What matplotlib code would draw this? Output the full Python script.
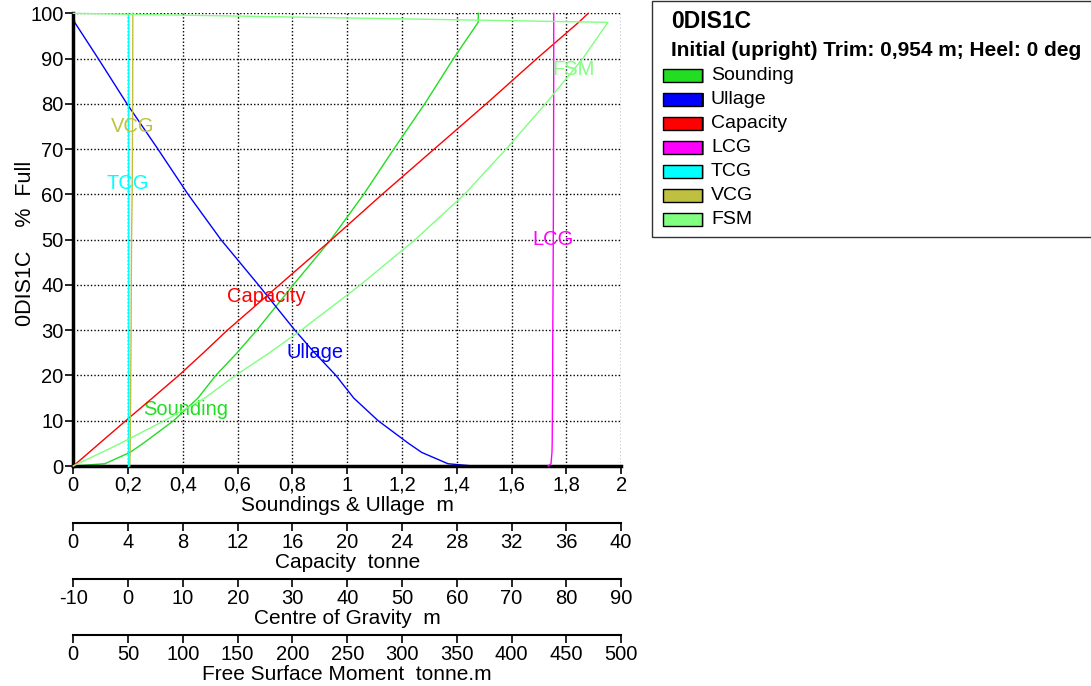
import numpy as np
import matplotlib.pyplot as plt
from matplotlib.patches import Rectangle
from matplotlib.ticker import FuncFormatter

plt.rcParams['font.family'] = ['Liberation Sans', 'DejaVu Sans']
plt.rcParams['axes.unicode_minus'] = False

tank = '0DIS1C'
condition = 'Initial (upright) Trim: 0,954 m; Heel: 0 deg'

# % full, and the tank curves read at each fill
pct_full = [0, 0.5, 3, 5, 10, 15, 20, 25, 30, 40, 50, 60, 70, 80, 90, 98, 100]
sounding = [0.0, 0.115, 0.207, 0.255, 0.366, 0.455, 0.52, 0.598, 0.67, 0.803,
            0.94, 1.06, 1.17, 1.283, 1.388, 1.478, 1.479]                 # m
ullage = [1.46, 1.368, 1.272, 1.224, 1.113, 1.024, 0.959, 0.881, 0.809, 0.676,
          0.539, 0.419, 0.309, 0.196, 0.091, 0.005, 0.0]                   # m
capacity = [0.0, 0.19, 1.15, 1.91, 3.83, 5.77, 7.7, 9.5, 11.25, 15.05,
            18.85, 22.55, 26.35, 30.15, 33.85, 36.9, 37.6]                 # tonne
lcg = [76.7, 77.2, 77.38, 77.42, 77.45, 77.48, 77.5, 77.51, 77.53, 77.58,
       77.62, 77.65, 77.67, 77.69, 77.7, 77.7, 77.7]                       # m
tcg = [0.0, 0.0, 0.0, 0.0, 0.0, 0.0, 0.0, 0.0, 0.0, 0.0,
       0.0, 0.0, 0.0, 0.0, 0.0, 0.0, 0.0]                                  # m
vcg = [0.3, 0.33, 0.38, 0.4, 0.43, 0.46, 0.49, 0.52, 0.55, 0.58,
       0.63, 0.75, 0.8, 0.83, 0.85, 0.86, 0.86]                            # m
fsm = [0, 4, 26, 43, 83, 120, 148, 179, 208, 262,
       312, 357, 395, 431, 465, 488, 0]                                    # tonne.m

names = ['Sounding', 'Ullage', 'Capacity', 'LCG', 'TCG', 'VCG', 'FSM']
colors = ['#22dd22', '#0000ff', '#ff0000', '#ff00ff', '#00ffff', '#c0c040', '#80ff80']
label_pct = [12.5, 25, 37.5, 50, 62.5, 75, 87.5]

W, H = 1091, 686
fig = plt.figure(figsize=(W / 100, H / 100), dpi=100)

ax = fig.add_axes([73.3 / W, 1 - 466 / H, (621.1 - 73.3) / W, (466 - 13.3) / H])
ax.set_xlim(0, 2)
ax.set_ylim(0, 100)
ax.set_xticks(np.arange(0, 2.01, 0.2))
ax.set_yticks(range(0, 101, 10))
ax.xaxis.set_major_formatter(FuncFormatter(lambda v, p: f'{v:g}'.replace('.', ',')))
ax.grid(True, color='black', linestyle=(0, (1, 1.5)), linewidth=1.0)
ax.set_axisbelow(True)
for s in ['top', 'right']:
    ax.spines[s].set_visible(False)
ax.spines['left'].set_linewidth(2.5)
ax.spines['bottom'].set_linewidth(2.5)
ax.tick_params(length=6, width=1.2, labelsize=14.5, pad=1)
ax.set_xlabel('Soundings & Ullage  m', fontsize=15, labelpad=1)
fig.text(26 / W, 1 - 243 / H, f'{tank}    %  Full', fontsize=15.5, rotation=90,
         ha='center', va='center')


def extra_axis(lo, hi, step, offset, label):
    a = ax.twiny()
    a.set_xlim(lo, hi)
    a.set_xticks(np.arange(lo, hi + step / 2, step))
    a.xaxis.set_ticks_position('bottom')
    a.xaxis.set_label_position('bottom')
    a.spines['bottom'].set_position(('axes', offset))
    for s in ['top', 'left', 'right']:
        a.spines[s].set_visible(False)
    a.spines['bottom'].set_linewidth(1.5)
    a.tick_params(length=6, width=1.2, labelsize=14.5, pad=1)
    a.set_xlabel(label, fontsize=15, labelpad=1)
    return a


ax_cap = extra_axis(0, 40, 4, -0.126, 'Capacity  tonne')
ax_cog = extra_axis(-10, 90, 10, -0.25, 'Centre of Gravity  m')
ax_fsm = extra_axis(0, 500, 50, -0.373, 'Free Surface Moment  tonne.m')

series = [(ax, sounding), (ax, ullage), (ax_cap, capacity), (ax_cog, lcg),
          (ax_cog, tcg), (ax_cog, vcg), (ax_fsm, fsm)]
for (a, vals), name, c, lp in zip(series, names, colors, label_pct):
    a.plot(vals, pct_full, color=c, lw=1.0, clip_on=False)
    a.text(np.interp(lp, pct_full, vals), lp, name, color=c, fontsize=14.5,
           ha='center', va='center')


# legend panel
def fx(px):
    return px / W


def fy(py):
    return 1 - py / H


fig.add_artist(Rectangle((fx(652), fy(237)), fx(460), 236 / H, transform=fig.transFigure,
                         fill=False, ec='#333333', lw=1))
fig.text(fx(671), fy(21), tank, fontsize=16.5, weight='bold', va='center')
fig.text(fx(671), fy(50), condition, fontsize=15, weight='bold', va='center')
for i, (name, c) in enumerate(zip(names, colors)):
    yc = 75 + 24 * i
    fig.add_artist(Rectangle((fx(664), fy(yc + 8)), fx(40), 14 / H, transform=fig.transFigure,
                             fc=c, ec='none'))
    fig.add_artist(Rectangle((fx(663), fy(yc + 7)), fx(39), 13 / H, transform=fig.transFigure,
                             fc=c, ec='black', lw=1))
    fig.text(fx(711), fy(yc), name, fontsize=14, va='center')

fig.savefig('out.png', dpi=100)
